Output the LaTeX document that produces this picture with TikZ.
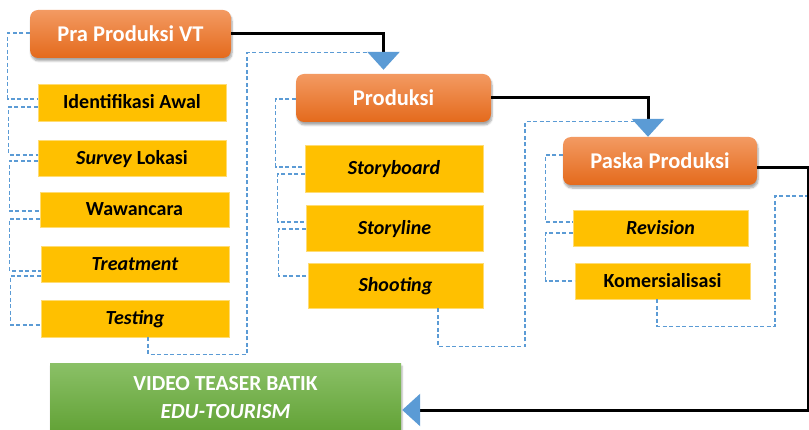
\documentclass[tikz,border=0pt]{standalone}
\usepackage{fontspec}
\setmainfont{Carlito}
\usetikzlibrary{arrows.meta,shadows.blur,calc}
\definecolor{orT}{HTML}{F39A62}
\definecolor{orB}{HTML}{E46A1C}
\definecolor{grT}{HTML}{8AC066}
\definecolor{grB}{HTML}{62A236}
\definecolor{yel}{HTML}{FFC000}
\definecolor{dsh}{HTML}{5B9BD5}
\definecolor{tri}{HTML}{5B9BD5}
\begin{document}
\begin{tikzpicture}[x=1pt,y=-1pt,
  phase/.style={rounded corners=8pt, top color=orT, bottom color=orB, draw=none,
    text=white, font=\fontsize{22.5}{24}\selectfont\bfseries, minimum height=48pt,
    inner sep=0pt, text height=14.5pt, text depth=0pt,
    blur shadow={shadow xshift=1pt, shadow yshift=-3pt, shadow blur steps=6, shadow opacity=35}},
  item/.style={fill=yel, draw=yel!55!white, line width=0.6pt, text=black,
    font=\fontsize{20}{22}\selectfont\bfseries, inner sep=0pt, text height=13pt, text depth=0pt},
  goal/.style={top color=grT, bottom color=grB, draw=none, text=white, align=center,
    font=\fontsize{21.5}{28}\selectfont\bfseries, inner sep=0pt,
    blur shadow={shadow xshift=1pt, shadow yshift=-2pt, shadow blur steps=5, shadow opacity=30}},
  link/.style={dsh, dash pattern=on 4pt off 2.5pt, line width=1.3pt},
  flow/.style={black, line width=3pt, -{Triangle[width=32pt,length=18pt,color=tri]}},
]
\useasboundingbox (0,0) rectangle (809,430);
\clip (0,0) rectangle (809,430);

% phases
\node[phase, minimum width=201pt] (pra) at (130.5,34) {Pra Produksi VT};
\node[phase, minimum width=195pt] (prod) at (393.5,98) {Produksi};
\node[phase, minimum width=194pt] (paska) at (660,161) {Paska Produksi};

% items column 1
\node[item, minimum width=188pt, minimum height=37pt] (idf) at (132,102.5) {Identifikasi Awal};
\node[item, minimum width=188pt, minimum height=36pt] (sur) at (132,158) {\textit{Survey} Lokasi};
\node[item, minimum width=189pt, minimum height=35pt] (waw) at (134.5,209.5) {Wawancara};
\node[item, minimum width=188pt, minimum height=36pt] (tre) at (135,264) {\textit{Treatment}};
\node[item, minimum width=188pt, minimum height=37pt] (tes) at (135,318.5) {\textit{Testing}};
% column 2
\node[item, minimum width=178pt, minimum height=47pt] (sb) at (394,168.5) {\textit{Storyboard}};
\node[item, minimum width=177pt, minimum height=46pt] (sl) at (394.5,228) {\textit{Storyline}};
\node[item, minimum width=175pt, minimum height=45pt] (sh) at (395.5,285.5) {\textit{Shooting}};
% column 3
\node[item, minimum width=175pt, minimum height=36pt] (rev) at (660.5,228) {\textit{Revision}};
\node[item, minimum width=175pt, minimum height=36pt] (kom) at (662.5,281) {Komersialisasi};

% goal
\node[goal, minimum width=351pt, minimum height=68pt] (green) at (225.5,398) {VIDEO TEASER BATIK\\\textit{EDU-TOURISM}};

% helper coordinates
\coordinate (t1) at ([xshift=-10pt,yshift=21pt]prod.north);
\coordinate (t2) at ([xshift=-12pt,yshift=15pt]paska.north);
\coordinate (rt) at ([xshift=51pt,yshift=-7pt]paska.east);
\coordinate (rjoin) at ([yshift=-28pt]rt);

% dashed links column 1
\draw[link] ([yshift=1pt]pra.west) -- ++(-22,0) |- ([yshift=3.5pt]idf.west);
\draw[link] ([yshift=-4.5pt]idf.west) -- ++(-29,0) |- ([yshift=3pt]sur.west);
\draw[link] ([yshift=-3pt]sur.west) -- ++(-28.5,0) |- ([yshift=-1.5pt]waw.west);
\draw[link] ([yshift=-9.5pt]waw.west) -- ++(-30,0) |- ([yshift=-7pt]tre.west);
\draw[link] ([yshift=-12pt]tre.west) -- ++(-30,0) |- ([yshift=-6.5pt]tes.west);
\draw[link] ([xshift=13pt]tes.south) |- ++(99,17) |- (t1);
% column 2
\draw[link] ([yshift=-1pt]prod.west) -- ++(-20,0) |- ([yshift=1.5pt]sb.west);
\draw[link] ([yshift=-5.5pt]sb.west) -- ++(-27,0) |- ([yshift=6pt]sl.west);
\draw[link] ([yshift=-1pt]sl.west) -- ++(-27,0) |- ([yshift=9.5pt]sh.west);
\draw[link] ([xshift=42.5pt]sh.south) |- ++(87,38) |- (t2);
% column 3
\draw[link] ([yshift=6pt]paska.west) -- ++(-17,0) |- ([yshift=6pt]rev.west);
\draw[link] ([yshift=-5pt]rev.west) -- ++(-27,0) |- (kom.west);
\draw[link] ([xshift=-5.5pt]kom.south) |- ++(118,27) |- (rjoin);

% main flow
\draw[flow] (pra.east) -| ([xshift=-10pt,yshift=4pt]prod.north);
\draw[flow] (prod.east) -| ([xshift=-12pt]paska.north);
\draw[flow] ([yshift=-7pt]paska.east) -- (rt) |- ([xshift=1pt,yshift=-12pt]green.east);
\end{tikzpicture}
\end{document}
